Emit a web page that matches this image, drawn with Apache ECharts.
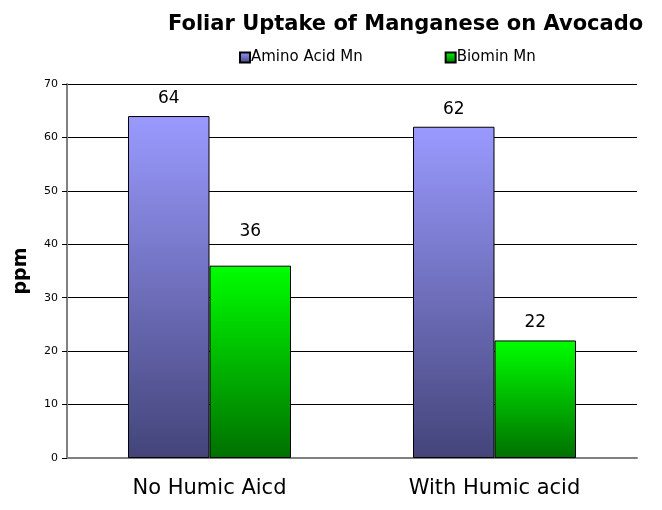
<!DOCTYPE html>
<html>
  <head>
    <meta charset="utf-8" />
    <title>Foliar Uptake of Manganese on Avocado</title>
    <script src="https://cdn.jsdelivr.net/npm/echarts@6/dist/echarts.min.js"></script>
    <style>
      body { margin: 0; background: #fff; }
    </style>
  </head>
  <body>
    <div id="main" style="width: 662px;height:510px;"></div>
    <script type="text/javascript">
      var categories = ['No Humic Aicd', 'With Humic acid'];
      var aminoAcidMn = [64, 62];
      var biominMn = [36, 22];
      var yTicks = { min: 0, max: 70, interval: 10 };

      var myChart = echarts.init(document.getElementById('main'));

      // excel style vertical gradients
      function grad(top, bottom) {
        return new echarts.graphic.LinearGradient(0, 0, 0, 1, [
          { offset: 0, color: top },
          { offset: 1, color: bottom }
        ]);
      }

      var labelStyle = {
        show: true,
        position: 'top',
        distance: 9,
        color: '#000',
        fontFamily: 'DejaVu Sans',
        fontSize: 17
      };

      // the "36" label sits a bit higher in the original
      var biominData = biominMn.map(function (v, i) {
        return i === 0 ? { value: v, label: { distance: 26 } } : v;
      });

      var option = {
        animation: false,
        textStyle: { fontFamily: 'DejaVu Sans' },
        title: {
          text: 'Foliar Uptake of Manganese on Avocado',
          left: 163,
          top: 9,
          textStyle: {
            fontFamily: 'DejaVu Sans',
            fontWeight: 'bold',
            fontSize: 21,
            color: '#000'
          }
        },
        legend: {
          left: 239,
          top: 50,
          padding: 0,
          itemGap: 82,
          itemWidth: 10,
          itemHeight: 10,
          icon: 'rect',
          textStyle: { fontSize: 15, color: '#000', padding: [0, 0, 0, -4] },
          data: ['Amino Acid Mn', 'Biomin Mn']
        },
        grid: { left: 67, right: 25, top: 84, bottom: 52 },
        xAxis: {
          type: 'category',
          data: categories,
          axisLine: { lineStyle: { color: '#808080', width: 2 } },
          axisTick: { length: 7, lineStyle: { color: '#606060', width: 2 } },
          axisLabel: { color: '#000', fontSize: 21, margin: 20 }
        },
        yAxis: {
          type: 'value',
          min: yTicks.min,
          max: yTicks.max,
          interval: yTicks.interval,
          name: 'ppm',
          nameLocation: 'middle',
          nameGap: 36,
          nameTextStyle: { fontWeight: 'bold', fontSize: 19, color: '#000' },
          axisLine: { show: true, lineStyle: { color: '#808080', width: 2 } },
          axisTick: { show: true, length: 5, lineStyle: { color: '#000' } },
          axisLabel: { color: '#000', fontSize: 11, margin: 9 },
          splitLine: { lineStyle: { color: '#000', width: 1 } }
        },
        series: [
          {
            name: 'Amino Acid Mn',
            type: 'bar',
            data: aminoAcidMn,
            barWidth: '28.6%',
            barGap: '0%',
            itemStyle: {
              color: grad('#9a9aff', '#44447a'),
              borderColor: '#000',
              borderWidth: 1
            },
            label: labelStyle
          },
          {
            name: 'Biomin Mn',
            type: 'bar',
            data: biominData,
            barWidth: '28.6%',
            barGap: '0%',
            itemStyle: {
              color: grad('#00ff00', '#007000'),
              borderColor: '#000',
              borderWidth: 1
            },
            label: labelStyle
          }
        ]
      };

      myChart.setOption(option);
    </script>
  </body>
</html>
